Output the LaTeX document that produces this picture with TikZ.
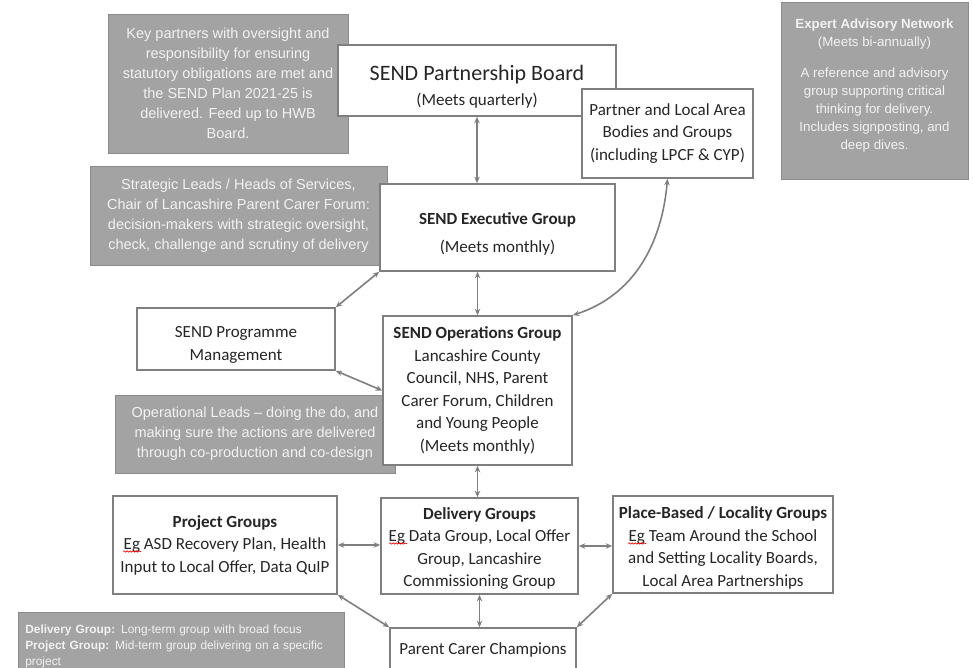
\documentclass[tikz,border=0pt]{standalone}
\usepackage{fontspec}
\usepackage{tikz}
\usetikzlibrary{arrows.meta,positioning,decorations.pathmorphing}
\newfontfamily\calibri{Carlito}
\newfontfamily\arial{Liberation Sans}
\definecolor{boxgrey}{HTML}{A3A3A3}
\definecolor{linegrey}{HTML}{7F7F7F}
\definecolor{txtgrey}{HTML}{262626}
\newcommand{\pad}[1]{\rule{0pt}{#1}}
\tikzset{
  note/.style={fill=boxgrey, draw=boxgrey!85!black, line width=0.6pt, text=white!95!black,
    align=center, inner sep=0pt, font=\arial\fontsize{14.5}{20}\selectfont},
  grp/.style={draw=linegrey, line width=1.6pt, fill=white, text=txtgrey,
    align=center, inner sep=0pt, font=\calibri\fontsize{17}{22.5}\selectfont},
  link/.style={draw=linegrey, line width=1.6pt,
    {Stealth[length=6.5pt,width=5.5pt]}-{Stealth[length=6.5pt,width=5.5pt]}},
  spellmark/.style={draw=red, line width=0.6pt, decorate,
    decoration={snake, amplitude=0.7pt, segment length=3pt}},
}

\begin{document}
\begin{tikzpicture}[x=1pt, y=-1pt]
    \useasboundingbox (0,0) rectangle (973,668);

    \node[note, minimum width=240pt, minimum height=139pt] (kp) at (228,83.5)
      {Key partners with oversight and\\responsibility for ensuring\\statutory obligations are met and\\the SEND Plan 2021-25 is\\delivered. Feed up to HWB\\Board.};
    \node[note, minimum width=297pt, minimum height=99pt] (sl) at (238.5,215.5)
      {Strategic Leads / Heads of Services,\\Chair of Lancashire Parent Carer Forum:\\decision-makers with strategic oversight,\\check, challenge and scrutiny of delivery};
    \node[note, minimum width=280pt, minimum height=78pt] (ol) at (255,434)
      {Operational Leads – doing the do, and\\making sure the actions are delivered\\through co-production and co-design};
    \node[note, minimum width=187pt, minimum height=177pt,
      font=\arial\fontsize{13.3}{18}\selectfont] (ean) at (874.5,90.5)
      {\bfseries Expert Advisory Network\\(Meets bi-annually)\\[13pt]A reference and advisory\\group supporting critical\\thinking for delivery.\\Includes signposting, and\\deep dives.\\[-6pt]\mbox{}};
    \node[note, anchor=north west, align=left, text width=312pt, inner xsep=7pt, inner ysep=13pt,
      font=\arial\fontsize{11.9}{16}\selectfont] (key) at (18,612)
      {\textbf{Delivery Group:} Long-term group with broad focus\\\textbf{Project Group:} Mid-term group delivering on a specific\\project};

    \node[grp, minimum width=278pt, minimum height=71pt] (board) at (477,80.5)
      {{\fontsize{22}{26}\selectfont\pad{28pt}SEND Partnership Board}\\[3pt](Meets quarterly)};
    \node[grp, minimum width=171pt, minimum height=89pt] (lab) at (667.5,133.5)
      {Partner and Local Area\\Bodies and Groups\\(including LPCF \& CYP)};
    \node[grp, minimum width=235pt, minimum height=87pt] (exec) at (497.5,227.5)
      {\pad{25pt}\textbf{SEND Executive Group}\\[5pt](Meets monthly)};
    \node[grp, minimum width=198pt, minimum height=62pt] (pm) at (236,339)
      {\pad{22.5pt}SEND Programme\\Management};
    \node[grp, minimum width=189pt, minimum height=149pt] (ops) at (477.5,390.5)
      {\textbf{SEND Operations Group}\\Lancashire County\\Council, NHS, Parent\\Carer Forum, Children\\and Young People\\(Meets monthly)};
    \node[grp, minimum width=224pt, minimum height=98pt] (proj) at (225,545)
      {\textbf{Project Groups}\\Eg ASD Recovery Plan, Health\\Input to Local Offer, Data QuIP};
    \node[grp, minimum width=197pt, minimum height=96pt] (del) at (479.5,546)
      {\pad{16.5pt}\textbf{Delivery Groups}\\Eg Data Group, Local Offer\\Group, Lancashire\\Commissioning Group};
    \node[grp, minimum width=220pt, minimum height=97pt] (place) at (723,544.5)
      {\pad{18.5pt}\textbf{Place-Based / Locality Groups}\\Eg Team Around the School\\and Setting Locality Boards,\\Local Area Partnerships};
    \node[grp, minimum width=186pt, minimum height=44pt] (pcc) at (483,650)
      {Parent Carer Champions};

    \draw[spellmark] ([xshift=11pt, yshift=-6.5pt]proj.west) -- ++(18,0);
    \draw[spellmark] ([xshift=9pt, yshift=2.5pt]del.west) -- ++(18,0);
    \draw[spellmark] ([xshift=16pt, yshift=1pt]place.west) -- ++(18,0);

    \draw[link] (board.south) -- (board.south |- exec.north);
    \draw[link] (ops.north) -- (ops.north |- exec.south);
    \draw[link] (exec.south west) -- (pm.north east);
    \draw[link] (pm.south east) -- (ops.west);
    \draw[link] (ops.north east) to[out=18, in=-95] (lab.south);
    \draw[link] (ops.south) -- (ops.south |- del.north);
    \draw[link] (del.south) -- (del.south |- pcc.north);
    \draw[link] (proj.east) -- (proj.east -| del.west);
    \draw[link] (del.east) -- (del.east -| place.west);
    \draw[link] (proj.south east) -- (pcc.north west);
    \draw[link] (place.south west) -- (pcc.north east);
\end{tikzpicture}
\end{document}
